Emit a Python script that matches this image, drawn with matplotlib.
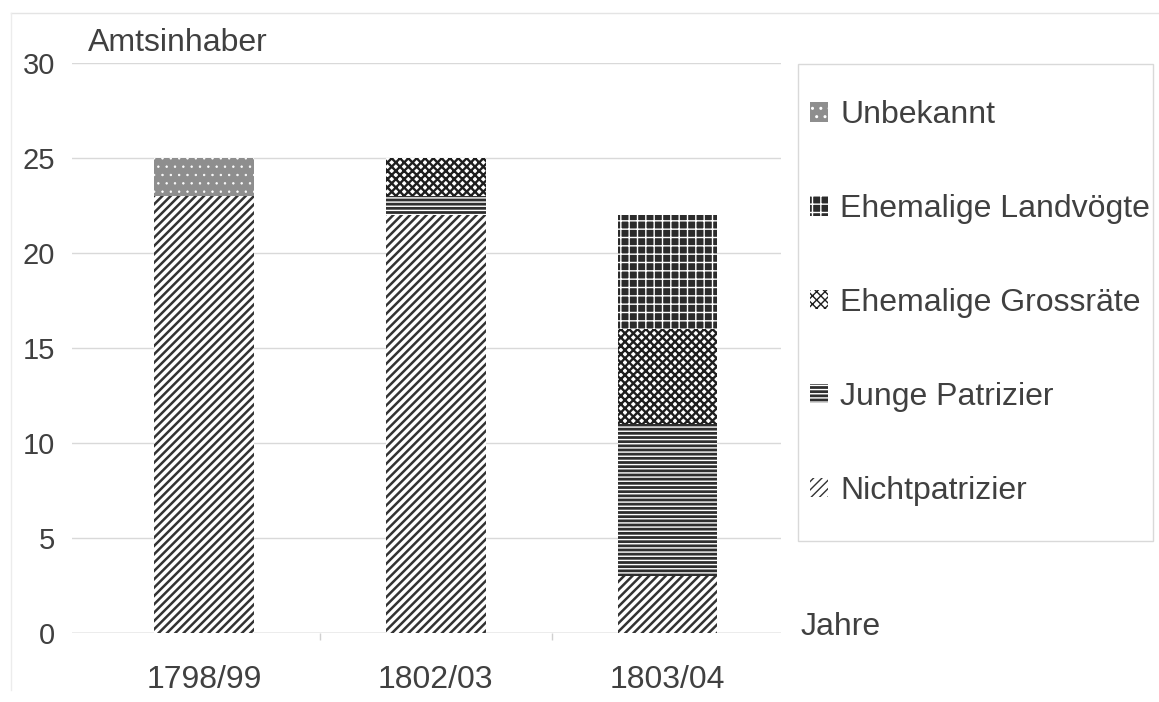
import matplotlib
matplotlib.use("Agg")
import matplotlib.pyplot as plt
from matplotlib.patches import Rectangle
from matplotlib.lines import Line2D

# ---- data ------------------------------------------------------------------
YEARS = ["1798/99", "1802/03", "1803/04"]
SERIES = ["Nichtpatrizier", "Junge Patrizier", "Ehemalige Grossräte",
          "Ehemalige Landvögte", "Unbekannt"]
NICHTPATRIZIER = [23, 22, 3]
JUNGE_PATRIZIER = [0, 1, 8]
GROSSRAETE = [0, 2, 5]
LANDVOEGTE = [0, 0, 6]
UNBEKANNT = [2, 0, 0]
VALUES = [NICHTPATRIZIER, JUNGE_PATRIZIER, GROSSRAETE, LANDVOEGTE, UNBEKANNT]

# ---- styling ---------------------------------------------------------------
W, H = 1159, 702
INK = "#404040"
GRID = "#d9d9d9"
FS = 23
# (face, hatch colour, hatch, hatch linewidth)
STYLE = {
    "Nichtpatrizier": ("white", "#333333", "////", 1.8),
    "Junge Patrizier": ("#2e2e2e", "white", "----", 1.0),
    "Ehemalige Grossräte": ("white", "#1e1e1e", "xxxx", 1.7),
    "Ehemalige Landvögte": ("#2b2b2b", "white", "++", 1.0),
    "Unbekannt": ("#8e8e8e", "white", "..", 0.5),
}

plt.rcParams["font.family"] = ["Liberation Sans", "DejaVu Sans"]

fig = plt.figure(figsize=(W / 100, H / 100), dpi=100)
fig.patch.set_facecolor("white")
ax = fig.add_axes([72 / W, 69 / H, 709 / W, 570 / H])

bottom = [0] * len(YEARS)
handles = {}
for name, vals in zip(SERIES, VALUES):
    fc, hc, hatch, hlw = STYLE[name]
    with plt.rc_context({"hatch.linewidth": hlw}):
        bars = ax.bar(range(len(YEARS)), vals, 0.43, bottom=bottom,
                      facecolor=fc, edgecolor=hc, hatch=hatch, lw=0, zorder=3)
    for b in bars:
        if hasattr(b, "set_hatch_linewidth"):
            b.set_hatch_linewidth(hlw)
    handles[name] = bars
    bottom = [b + v for b, v in zip(bottom, vals)]

ax.set_xlim(-0.57, 2.49)
ax.set_ylim(0, 30)
for s in ax.spines.values():
    s.set_visible(False)
ax.set_yticks(range(0, 31, 5))
ax.yaxis.grid(True, color=GRID, lw=1, zorder=0)
ax.axhline(0, color="#bfbfbf", lw=1, zorder=2)
ax.set_axisbelow(True)
ax.tick_params(axis="y", length=0, pad=12, labelsize=21, labelcolor=INK)
ax.set_xticks(range(len(YEARS)))
ax.set_xticklabels(YEARS)
ax.tick_params(axis="x", length=0, pad=23, labelsize=FS, labelcolor=INK)
ax.set_xticks([0.5, 1.5], minor=True)
ax.tick_params(axis="x", which="minor", length=5, color="#d0d0d0", width=1)

fig.text(88 / W, 1 - 43 / H, "Amtsinhaber", fontsize=FS, color=INK,
         ha="left", va="center")
fig.text(801 / W, 1 - 627 / H, "Jahre", fontsize=FS, color=INK,
         ha="left", va="center")

# legend box and entries
fig.patches.append(Rectangle((798 / W, 1 - 541 / H), 355 / W, 477 / H,
                             transform=fig.transFigure, facecolor="white",
                             edgecolor="#d9d9d9", lw=1, zorder=1))
order = SERIES[::-1]
leg = fig.legend([handles[n] for n in order], order, loc="center left",
                 bbox_to_anchor=(810 / W, 1 - 303 / H), frameon=False,
                 fontsize=FS, labelcolor=INK, borderpad=0, borderaxespad=0,
                 handlelength=0.56, handleheight=0.56, handletextpad=0.38,
                 labelspacing=2.0)

# faint outer frame (top and left edges of the scanned chart)
fig.add_artist(Line2D([11 / W, 1], [1 - 13 / H, 1 - 13 / H],
                      transform=fig.transFigure, color="#e4e4e4", lw=1))
fig.add_artist(Line2D([11 / W, 11 / W], [1 - 13 / H, 1 - 690 / H],
                      transform=fig.transFigure, color="#ececec", lw=1))

fig.savefig("out.png", dpi=100, facecolor="white")
